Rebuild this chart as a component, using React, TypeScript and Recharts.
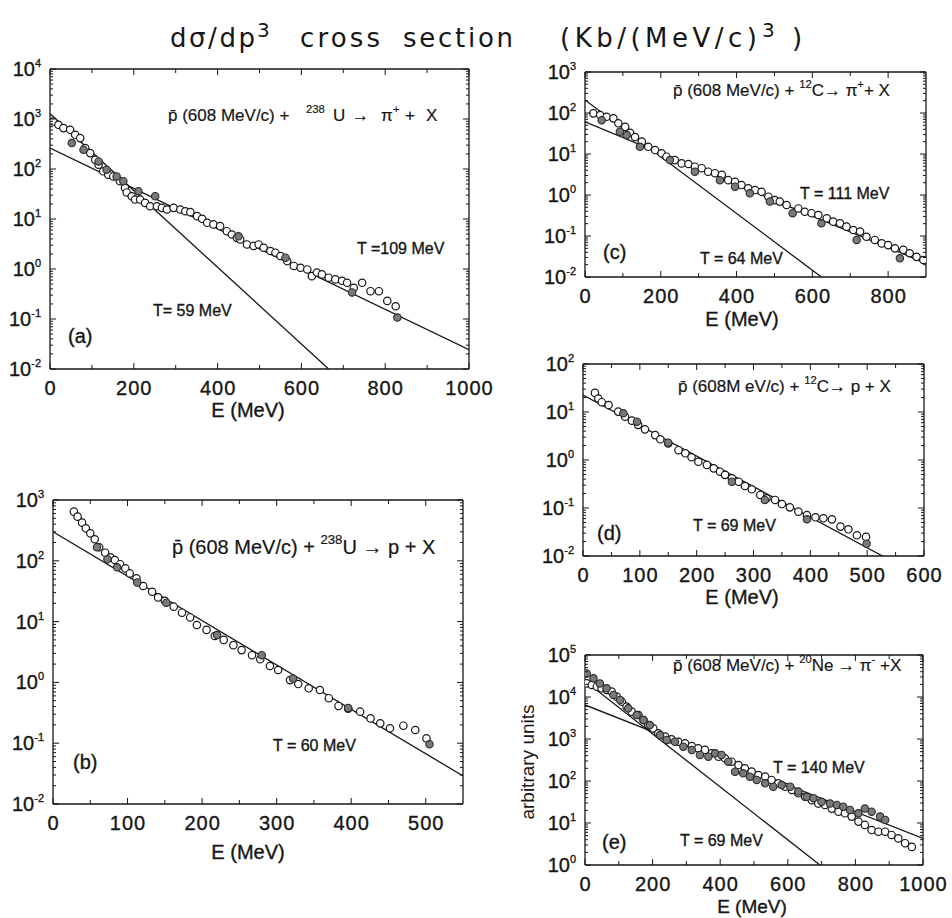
import React from "react"
import { ComposedChart, Line, Scatter, XAxis, YAxis } from "recharts"

type Pt = { x: number; y: number }

const INK = "#161616"
const FONT = "'Liberation Sans', Arial, Helvetica, sans-serif"
const HEAVY = 0.35 // thin outline on labels, the scan prints them a bit heavy

const pts = (xs: number[], ys: number[]): Pt[] => xs.map((x, i) => ({ x, y: ys[i] }))

// (a) pbar + 238U -> pi+ + X
const aOpenE = [8, 20, 32, 48, 60, 72, 84, 96, 108, 116, 127, 139, 151, 167, 179, 183, 195, 203, 215, 227, 239, 255, 267, 279, 295, 311, 323, 335, 351, 363, 375, 390, 406, 422, 434, 446, 454, 470, 486, 498, 510, 526, 538, 550, 566, 582, 598, 614, 625, 637, 649, 665, 681, 697, 709, 725, 745, 765, 785, 805, 825]
const aOpenV = [890, 766, 657, 608, 483, 415, 262, 208, 153, 122, 90, 77, 71, 57, 42, 34, 28.5, 24.5, 24.5, 21, 18, 18, 16.7, 15.5, 16.7, 15.5, 14.3, 13.7, 11.4, 10.1, 8.4, 7.8, 7.2, 5.7, 4.9, 4.2, 3.9, 3.1, 2.9, 3.1, 2.66, 2.29, 2.12, 1.82, 1.44, 1.15, 1.06, 0.98, 0.72, 0.85, 0.78, 0.67, 0.62, 0.58, 0.53, 0.42, 0.53, 0.36, 0.36, 0.23, 0.18]
const aFilledE = [52, 80, 116, 135, 159, 175, 211, 251, 450, 562, 721, 829]
const aFilledV = [330, 243, 142, 97, 71, 57, 36, 28.5, 4.5, 1.68, 0.34, 0.107]
const aFit59 = pts([0, 665], [1270, 0.01])
const aFit109 = pts([0, 1000], [263, 0.0243])

// (b) pbar + 238U -> p + X
const bOpenE = [28, 33, 39, 44, 50, 56, 62, 70, 77, 83, 90, 97, 103, 112, 121, 133, 141, 150, 162, 173, 184, 193, 206, 217, 229, 242, 253, 267, 278, 291, 302, 318, 329, 343, 358, 370, 383, 396, 412, 426, 439, 452, 470, 486, 501]
const bOpenV = [643, 532, 424, 342, 283, 226, 167, 136, 114, 103, 88, 75, 62, 51.5, 38.5, 31, 25, 22, 17.6, 14, 11.7, 8.8, 7.3, 5.8, 5.0, 4.1, 3.4, 2.8, 2.4, 1.86, 1.6, 1.09, 0.94, 0.8, 0.75, 0.55, 0.41, 0.37, 0.33, 0.256, 0.212, 0.176, 0.194, 0.165, 0.12]
const bFilledE = [59, 73, 86, 113, 152, 220, 280, 322, 396, 505]
const bFilledV = [167, 106, 78, 44, 20.5, 6.0, 2.8, 1.16, 0.38, 0.096]
const bFit60 = pts([0, 550], [300, 0.029])

// (c) pbar + 12C -> pi+ + X
const cOpenE = [22, 40, 57, 75, 88, 106, 119, 132, 150, 167, 185, 202, 215, 237, 255, 273, 290, 308, 325, 343, 361, 378, 396, 413, 431, 449, 466, 484, 501, 514, 532, 563, 580, 598, 616, 638, 655, 673, 690, 708, 726, 743, 765, 783, 800, 818, 840, 857, 875, 893]
const cOpenV = [98, 89, 81, 74, 56, 46, 33, 26, 20, 15, 12.5, 10.4, 8.6, 7.1, 5.9, 5.7, 4.9, 4.5, 3.7, 3.4, 3.1, 2.3, 2.1, 1.75, 1.46, 1.32, 1.2, 0.91, 0.75, 0.69, 0.57, 0.47, 0.39, 0.36, 0.325, 0.27, 0.224, 0.204, 0.169, 0.14, 0.128, 0.096, 0.08, 0.066, 0.06, 0.05, 0.046, 0.038, 0.031, 0.026]
const cFilledE = [44, 92, 110, 145, 224, 290, 356, 396, 435, 488, 548, 624, 717, 831]
const cFilledV = [67, 35, 29, 15, 7.1, 3.7, 2.3, 1.6, 1.1, 0.69, 0.36, 0.204, 0.08, 0.0285]
const cFit64 = pts([0, 624], [207, 0.01])
const cFit111 = pts([0, 900], [61, 0.0216])

// (d) pbar + 12C -> p + X
const dOpenE = [21, 27, 33, 45, 62, 74, 86, 97, 109, 127, 136, 150, 168, 180, 191, 203, 218, 230, 241, 250, 262, 274, 285, 297, 312, 323, 338, 350, 364, 379, 394, 409, 423, 438, 453, 467, 482, 498]
const dOpenV = [25, 19, 16, 14, 10.2, 8.0, 6.6, 5.4, 4.35, 3.3, 2.7, 2.2, 1.6, 1.38, 1.14, 0.92, 0.79, 0.67, 0.57, 0.49, 0.415, 0.353, 0.287, 0.245, 0.187, 0.159, 0.147, 0.121, 0.103, 0.084, 0.071, 0.064, 0.061, 0.058, 0.041, 0.036, 0.027, 0.025]
const dFilledE = [71, 95, 150, 262, 320, 394, 499]
const dFilledV = [9.4, 6.3, 2.3, 0.353, 0.147, 0.058, 0.018]
const dFit69 = pts([0, 527], [22.6, 0.01])

// (e) pbar + 20Ne -> pi- + X (arbitrary units)
const eOpenE = [5, 20, 35, 49, 64, 79, 94, 109, 123, 138, 158, 173, 187, 202, 217, 237, 256, 276, 296, 316, 335, 355, 375, 395, 414, 434, 454, 473, 493, 513, 533, 552, 572, 592, 612, 631, 651, 671, 690, 710, 730, 750, 769, 789, 809, 828, 848, 868, 888, 907, 927, 947, 967]
const eOpenV = [21100, 19300, 17600, 16100, 14700, 13400, 10200, 7740, 5890, 4480, 3720, 2830, 2150, 1790, 1360, 1140, 980, 860, 790, 680, 600, 550, 456, 380, 347, 288, 240, 200, 167, 139, 127, 106, 88, 73, 61, 51, 42, 35, 29, 27, 22, 18.6, 17, 14.2, 10.8, 9.0, 6.8, 6.2, 6.2, 5.2, 4.3, 3.3, 2.7]
const eFilledE = [5, 25, 44, 64, 84, 104, 128, 153, 173, 192, 222, 242, 266, 291, 316, 340, 365, 385, 404, 424, 444, 468, 488, 508, 533, 557, 582, 607, 631, 656, 676, 700, 725, 745, 764, 784, 809, 828, 848, 873, 888]
const eFilledV = [36500, 27800, 21100, 16100, 11200, 8490, 5370, 3720, 2830, 2150, 1240, 950, 860, 656, 547, 416, 380, 456, 416, 288, 167, 152, 127, 106, 88, 73, 80, 73, 56, 42, 39, 32, 29, 27, 24.5, 20.4, 17, 22, 18.6, 14.2, 11.8]
const eFit69 = pts([0, 695], [24000, 1])
const eFit140 = pts([0, 1000], [6460, 4.3])

type PanelProps = {
  box: [number, number, number, number]
  xDomain: [number, number]
  xMajor: number[]
  xMinor: number[]
  yExp: [number, number]
  open: Pt[]
  filled: Pt[]
  fits: Pt[][]
}

const openDot = (p: any) => <circle cx={p.cx} cy={p.cy} r={3.7} fill="#fff" stroke={INK} strokeWidth={1.2} />
const filledDot = (p: any) => <circle cx={p.cx} cy={p.cy} r={3.7} fill="#7a7a7a" stroke="#2a2a2a" strokeWidth={1.1} />

// space around the plot box inside each chart
const PAD_L = 50
const PAD_T = 18
const PAD_R = 34
const PAD_B = 60

function Panel({ box, xDomain, xMajor, xMinor, yExp, open, filled, fits }: PanelProps) {
  const [x0, y0, x1, y1] = box
  const yMajor: number[] = []
  const yMinor: number[] = []
  for (let k = yExp[0]; k <= yExp[1]; k++) {
    yMajor.push(Math.pow(10, k))
    if (k < yExp[1]) for (let m = 2; m <= 9; m++) yMinor.push(m * Math.pow(10, k))
  }
  const yTicks = [...yMajor, ...yMinor].sort((a, b) => a - b)
  const xTicks = [...xMajor, ...xMinor].sort((a, b) => a - b)
  const yIsMajor = (v: number) => yMajor.some((m) => Math.abs(v - m) / m < 1e-6)
  const yDomain: [number, number] = [Math.pow(10, yExp[0]), Math.pow(10, yExp[1])]

  const leftTick = (p: any) => {
    const v = p.payload.value
    const major = yIsMajor(v)
    return (
      <g>
        <line x1={p.x} x2={p.x + (major ? 6 : 3)} y1={p.y} y2={p.y} stroke={INK} strokeWidth={1} />
        {major && (
          <text x={p.x - 9} y={p.y + 7} textAnchor="end" fontSize={20} fontFamily={FONT} fill={INK}
            stroke={INK} strokeWidth={HEAVY}>
            10<tspan dy={-9} fontSize={11}>{Math.round(Math.log10(v))}</tspan>
          </text>
        )}
      </g>
    )
  }
  const rightTick = (p: any) => {
    const major = yIsMajor(p.payload.value)
    return <line x1={p.x} x2={p.x - (major ? 6 : 3)} y1={p.y} y2={p.y} stroke={INK} strokeWidth={1} />
  }
  const bottomTick = (p: any) => {
    const v = p.payload.value
    const major = xMajor.includes(v)
    return (
      <g>
        <line x1={p.x} x2={p.x} y1={p.y} y2={p.y - (major ? 6 : 4)} stroke={INK} strokeWidth={1} />
        {major && (
          <text x={p.x + 0.5} y={p.y + 26} textAnchor="middle" fontSize={20} letterSpacing={1} fontFamily={FONT} fill={INK}
            stroke={INK} strokeWidth={HEAVY}>
            {v}
          </text>
        )}
      </g>
    )
  }
  const topTick = (p: any) => {
    const major = xMajor.includes(p.payload.value)
    return <line x1={p.x} x2={p.x} y1={p.y} y2={p.y + (major ? 6 : 4)} stroke={INK} strokeWidth={1} />
  }
  const axisLine = { stroke: INK, strokeWidth: 1.3 }

  return (
    <div style={{ position: "absolute", left: x0 - PAD_L, top: y0 - PAD_T }}>
      <ComposedChart width={x1 - x0 + PAD_L + PAD_R} height={y1 - y0 + PAD_T + PAD_B}
        margin={{ top: PAD_T - 1, right: PAD_R - 1, bottom: 0, left: 0 }}>
        <XAxis xAxisId="b" dataKey="x" type="number" domain={xDomain} ticks={xTicks} interval={0} allowDataOverflow
          height={PAD_B} tickSize={0} tickMargin={0} tickLine={false} axisLine={axisLine} tick={bottomTick} />
        <XAxis xAxisId="t" orientation="top" dataKey="x" type="number" domain={xDomain} ticks={xTicks} interval={0} allowDataOverflow
          height={1} tickSize={0} tickMargin={0} tickLine={false} axisLine={axisLine} tick={topTick} />
        <YAxis yAxisId="l" dataKey="y" type="number" scale="log" domain={yDomain} ticks={yTicks} interval={0} allowDataOverflow
          width={PAD_L} tickSize={0} tickMargin={0} tickLine={false} axisLine={axisLine} tick={leftTick} />
        <YAxis yAxisId="r" orientation="right" dataKey="y" type="number" scale="log" domain={yDomain} ticks={yTicks} interval={0} allowDataOverflow
          width={1} tickSize={0} tickMargin={0} tickLine={false} axisLine={axisLine} tick={rightTick} />
        {fits.map((f, i) => (
          <Line key={i} xAxisId="b" yAxisId="l" data={f} dataKey="y" type="linear" stroke={INK} strokeWidth={1.3}
            dot={false} activeDot={false} isAnimationActive={false} />
        ))}
        <Scatter xAxisId="b" yAxisId="l" data={open} dataKey="y" shape={openDot} isAnimationActive={false} />
        <Scatter xAxisId="b" yAxisId="l" data={filled} dataKey="y" shape={filledDot} isAnimationActive={false} />
      </ComposedChart>
    </div>
  )
}

// [text, superscript?, absolute x?]
type Part = [string, boolean?, number?]

function Reaction({ x, y, size, parts }: { x: number; y: number; size: number; parts: Part[] }) {
  const lift = size * 0.38
  return (
    <text x={x} y={y} fontSize={size} fontFamily={FONT} fill={INK} dominantBaseline="central" stroke={INK} strokeWidth={0.2}>
      {parts.map(([t, sup, px], i) => {
        const prevSup = i > 0 && parts[i - 1][1]
        const dy = sup ? -lift : prevSup ? lift : 0
        return (
          <tspan key={i} x={px} dy={dy} fontSize={sup ? size * 0.66 : size} style={{ whiteSpace: "pre" }}>
            {t}
          </tspan>
        )
      })}
    </text>
  )
}

function Note({ x, y, text, size = 16, anchor = "start" }: { x: number; y: number; text: string; size?: number; anchor?: string }) {
  return (
    <text x={x} y={y} fontSize={size} fontFamily={FONT} fill={INK} textAnchor={anchor as any} dominantBaseline="central"
      stroke={INK} strokeWidth={HEAVY} style={{ whiteSpace: "pre" }}>
      {text}
    </text>
  )
}

const PBAR = "p\u0304"

export default function App() {
  const titleFont = "'DejaVu Sans', 'Noto Sans', sans-serif"
  return (
    <div style={{ position: "absolute", left: 0, top: 0, width: 952, height: 918, background: "#fff" }}>
      <Panel box={[50, 69, 469, 369]} xDomain={[0, 1000]} xMajor={[0, 200, 400, 600, 800, 1000]} xMinor={[100, 300, 500, 700, 900]}
        yExp={[-2, 4]} open={pts(aOpenE, aOpenV)} filled={pts(aFilledE, aFilledV)} fits={[aFit59, aFit109]} />
      <Panel box={[53, 500, 463, 804]} xDomain={[0, 550]} xMajor={[0, 100, 200, 300, 400, 500]} xMinor={[50, 150, 250, 350, 450]}
        yExp={[-2, 3]} open={pts(bOpenE, bOpenV)} filled={pts(bFilledE, bFilledV)} fits={[bFit60]} />
      <Panel box={[585, 72, 926, 277]} xDomain={[0, 900]} xMajor={[0, 200, 400, 600, 800]} xMinor={[100, 300, 500, 700]}
        yExp={[-2, 3]} open={pts(cOpenE, cOpenV)} filled={pts(cFilledE, cFilledV)} fits={[cFit64, cFit111]} />
      <Panel box={[583, 364, 924, 556]} xDomain={[0, 600]} xMajor={[0, 100, 200, 300, 400, 500, 600]} xMinor={[50, 150, 250, 350, 450, 550]}
        yExp={[-2, 2]} open={pts(dOpenE, dOpenV)} filled={pts(dFilledE, dFilledV)} fits={[dFit69]} />
      <Panel box={[585, 655, 923, 865]} xDomain={[0, 1000]} xMajor={[0, 200, 400, 600, 800, 1000]} xMinor={[100, 300, 500, 700, 900]}
        yExp={[0, 5]} open={pts(eOpenE, eOpenV)} filled={pts(eFilledE, eFilledV)} fits={[eFit69, eFit140]} />

      <svg width={952} height={918} style={{ position: "absolute", left: 0, top: 0, pointerEvents: "none" }}>
        <g fontFamily={titleFont} fontSize={26} fill={INK}>
          <text x={170} y={47} textLength={85} lengthAdjust="spacing">dσ/dp</text>
          <text x={257} y={37} fontSize={20}>3</text>
          <text x={300} y={47} textLength={80} lengthAdjust="spacing">cross</text>
          <text x={403} y={47} textLength={110} lengthAdjust="spacing">section</text>
          <text x={560} y={47} textLength={197} lengthAdjust="spacing">(Kb/(MeV/c)</text>
          <text x={762} y={37} fontSize={20}>3</text>
          <text x={792} y={47}>)</text>
        </g>

        <Reaction x={168} y={115} size={17} parts={[[PBAR + " (608 MeV/c) +"], ["238", true, 306], ["U", false, 333], ["\u2192", false, 352], ["\u03c0", false, 381], ["+", true, 393], ["+", false, 405], ["X", false, 426]]} />
        <Note x={357} y={248} text="T =109 MeV" />
        <Note x={153} y={310} text="T= 59 MeV" />
        <Note x={68} y={336} text="(a)" size={20} />
        <Note x={248} y={410} text="E (MeV)" size={20} anchor="middle" />

        <Reaction x={172} y={547} size={20} parts={[[PBAR + " (608 MeV/c) + "], ["238", true], ["U \u2192 p + X"]]} />
        <Note x={273} y={745} text="T = 60 MeV" />
        <Note x={73} y={762} text="(b)" size={20} />
        <Note x={248} y={852} text="E (MeV)" size={20} anchor="middle" />

        <Reaction x={673} y={90} size={17} parts={[[PBAR + " (608 MeV/c) + "], ["12", true], ["C\u2192 \u03c0"], ["+", true], ["+ X"]]} />
        <Note x={800} y={193} text="T = 111 MeV" />
        <Note x={700} y={258} text="T = 64 MeV" />
        <Note x={603} y={252} text="(c)" size={20} />
        <Note x={742} y={319} text="E (MeV)" size={20} anchor="middle" />

        <Reaction x={678} y={386} size={17} parts={[[PBAR + " (608M eV/c) + "], ["12", true], ["C\u2192 p + X"]]} />
        <Note x={693} y={525} text="T = 69 MeV" />
        <Note x={597} y={533} text="(d)" size={20} />
        <Note x={742} y={597} text="E (MeV)" size={20} anchor="middle" />

        <Reaction x={673} y={665} size={17} parts={[[PBAR + " (608 MeV/c) + "], ["20", true], ["Ne \u2192 \u03c0"], ["-", true], [" +X"]]} />
        <Note x={773} y={767} text="T = 140 MeV" />
        <Note x={680} y={840} text="T = 69 MeV" />
        <Note x={602} y={842} text="(e)" size={20} />
        <Note x={752} y={906} text="E (MeV)" size={19} anchor="middle" />
        <text x={527} y={762} fontSize={19} fontFamily={FONT} fill={INK} textAnchor="middle" dominantBaseline="central"
          transform="rotate(-90 527 762)">arbitrary units</text>
      </svg>
    </div>
  )
}
